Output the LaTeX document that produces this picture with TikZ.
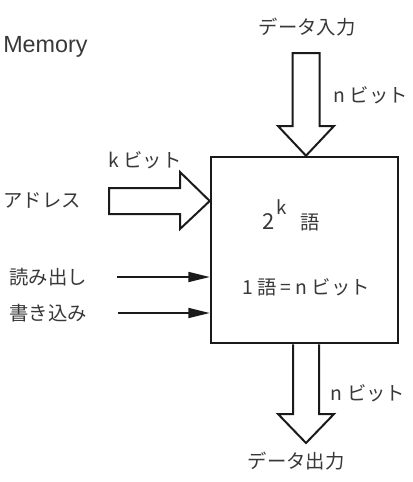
\documentclass[tikz,border=0pt]{standalone}
\usepackage{fontspec}
\setmainfont{Liberation Sans}
\newfontfamily\jp{Noto Sans CJK JP}
\usetikzlibrary{arrows.meta,calc}
\definecolor{txt}{HTML}{383838}
\definecolor{ln}{HTML}{1A1A1A}
\begin{document}
\begin{tikzpicture}[x=0.75pt,y=-0.75pt,
  lbl/.style={inner sep=0pt,text=txt,font=\jp\fontsize{14.5}{16}\selectfont},
  bigarrow/.style={draw=ln,line width=1.5pt,line join=miter,fill=white},
  thin/.style={draw=ln,line width=1.3pt,-{Triangle[length=16pt,width=7.5pt]}}]
\useasboundingbox (0,0) rectangle (412,482);
% memory box
\node[draw=ln,line width=1.9pt,minimum width=187*0.75pt,minimum height=186*0.75pt,inner sep=0pt] (mem) at (304.5,250) {};
% top input arrow
\coordinate (tin) at (306,53);
\draw[bigarrow] ($(tin)+(-13.5,0)$) -- ($(tin)+(13.5,0)$) -- ($(tin)+(13.5,73)$) -- ($(tin)+(28,73)$)
  -- (mem.north -| tin) -- ($(tin)+(-28,73)$) -- ($(tin)+(-13.5,73)$) -- cycle;
% address arrow
\coordinate (ain) at (109,201);
\draw[bigarrow] ($(ain)+(0,-13)$) -- ($(ain)+(71,-13)$) -- ($(ain)+(71,-29)$) -- (mem.west |- ain)
  -- ($(ain)+(71,28)$) -- ($(ain)+(71,13)$) -- ($(ain)+(0,13)$) -- cycle;
% output arrow
\coordinate (tout) at (306,443);
\draw[bigarrow] ($(mem.south -| tout)+(-13,0)$) -- ($(tout)+(-13,-29)$) -- ($(tout)+(-28,-29)$) -- (tout)
  -- ($(tout)+(28,-29)$) -- ($(tout)+(13,-29)$) -- ($(mem.south -| tout)+(13,0)$);
% control arrows
\coordinate (rd) at (117,277);
\coordinate (wr) at (118,313);
\draw[thin] (rd) -- (rd -| mem.west);
\draw[thin] (wr) -- (wr -| mem.west);
% labels
\node[inner sep=0pt,anchor=west,text=txt,font=\fontsize{17.5}{19}\selectfont] (title) at (3,47) {Memory};
\node[lbl] (din) at (307,27) {データ入力};
\node[lbl,anchor=east] (nb1) at (408,95) {n ビット};
\node[lbl] (kb) at (145,160) {k ビット};
\node[lbl] (addr) at (42,200) {アドレス};
\node[lbl,anchor=base west] (two) at (262,229) {\fontsize{16.5}{18}\selectfont 2};
\node[lbl,anchor=base west] (sup) at (276,214) {\fontsize{14}{16}\selectfont k};
\node[lbl,anchor=base west] (go) at (300,229) {語};
\node[lbl] (read) at (48,277) {読み出し};
\node[lbl] (write) at (48,313) {書き込み};
\node[lbl] (wsize) at (306,287) {1 語 = n ビット};
\node[lbl] (nb2) at (368,393) {n ビット};
\node[lbl] (dout) at (296,461) {データ出力};
\end{tikzpicture}
\end{document}
